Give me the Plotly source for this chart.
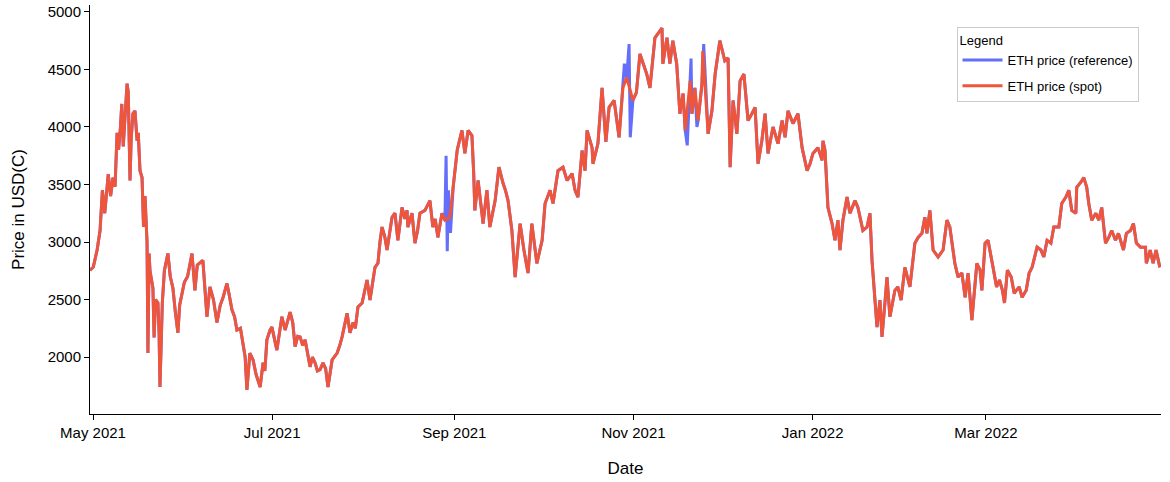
import pandas as pd
import plotly.graph_objects as go

# days counted from 2021-05-01, price
start = pd.Timestamp("2021-05-01")

spot_days = [
    -1.0, 0.1, 1.4, 2.4, 3.2, 4.0, 5.2, 6.0, 6.8, 7.5, 8.2, 8.7, 9.3, 9.8, 10.3, 11.0,
    11.6, 12.0, 12.6, 13.0, 13.6, 14.3, 15.0, 15.4, 16.0, 16.7, 17.2, 17.7, 18.4, 18.7,
    19.1, 19.4, 20.4, 20.8, 21.3, 22.1, 22.5, 22.8, 23.6, 24.3, 25.5, 26.3, 27.2, 28.0,
    28.9, 29.5, 31.1, 32.2, 33.7, 34.7, 35.5, 37.4, 38.2, 38.8, 39.8, 41.0, 42.2, 43.3,
    44.3, 45.6, 46.3, 47.3, 48.2, 49.0, 50.2, 51.1, 51.8, 52.4, 53.0, 53.4, 54.5, 55.5,
    56.9, 57.9, 58.5, 59.2, 60.3, 60.9, 62.6, 63.5, 64.3, 65.4, 67.1, 68.0, 68.8, 69.7,
    70.5, 71.4, 72.2, 73.9, 74.7, 75.6, 76.4, 77.3, 78.3, 79.2, 80.0, 81.4, 82.2, 83.1,
    84.0, 84.8, 86.5, 87.5, 88.5, 89.3, 90.2, 91.6, 93.3, 94.3, 96.0, 97.0, 97.7, 98.4,
    99.3, 100.1, 101.8, 102.8, 103.8, 105.2, 106.2, 106.9, 107.2, 108.6, 109.6, 110.5,
    111.3, 113.0, 114.7, 115.7, 116.5, 117.4, 118.8, 119.8, 121.5, 122.6, 124.0, 125.6,
    126.6, 127.7, 129.0, 129.6, 130.0, 131.1, 132.0, 132.8, 134.1, 135.1, 136.9, 138.2,
    139.6, 140.4, 141.3, 142.6, 143.7, 145.4, 146.7, 148.1, 149.4, 150.3, 151.1, 152.9,
    153.9, 155.6, 156.6, 158.3, 160.0, 161.4, 163.1, 164.1, 165.1, 166.5, 167.5, 168.2,
    169.9, 170.2, 171.9, 173.3, 174.6, 175.7, 177.4, 179.1, 180.4, 181.7, 183.8, 185.0,
    186.2, 188.5, 189.6, 191.3, 193.7, 194.0, 195.4, 196.4, 197.4, 198.7, 199.8, 200.9,
    201.6, 203.3, 203.9, 204.9, 206.0, 207.3, 207.6, 209.4, 210.7, 211.8, 213.4, 215.1,
    216.2, 216.9, 217.9, 219.2, 220.3, 221.6, 223.0, 224.3, 225.4, 226.4, 227.7, 228.8,
    229.8, 231.5, 233.2, 234.6, 235.6, 236.6, 238.3, 240.0, 241.4, 243.1, 244.1, 245.1,
    246.8, 248.2, 248.5, 249.2, 249.9, 250.2, 251.6, 252.6, 253.6, 254.3, 255.3, 256.7,
    257.7, 259.4, 260.4, 262.1, 263.5, 264.5, 265.2, 266.2, 266.9, 267.9, 268.6, 269.6,
    270.3, 271.3, 273.0, 274.0, 275.1, 276.4, 278.1, 279.8, 280.9, 282.2, 283.2, 283.9,
    284.9, 286.0, 287.7, 289.4, 290.7, 291.7, 293.4, 294.5, 295.8, 296.9, 297.9, 299.2,
    300.9, 302.0, 302.6, 303.7, 304.7, 306.4, 307.6, 308.6, 309.6, 310.3, 311.3, 312.6,
    313.6, 315.3, 316.3, 317.7, 318.7, 319.7, 321.4, 322.7, 323.7, 324.8, 326.1, 327.1,
    328.8, 329.8, 331.2, 332.2, 333.2, 334.6, 334.9, 336.3, 337.3, 338.3, 339.0, 340.0,
    341.4, 342.4, 343.4, 344.7, 345.8, 346.8, 348.1, 349.1, 350.8, 351.8, 353.2, 354.2,
    355.2, 356.6, 358.3, 358.6, 359.9, 360.9, 361.9, 363.2,
]
spot_price = [
    2754, 2783, 2930, 3100, 3450, 3250, 3590, 3400, 3560, 3480, 3950, 3800, 3980, 4200, 3830, 4150,
    4376, 4300, 3535, 3900, 4116, 4140, 3880, 3950, 3620, 3560, 3130, 3400, 3000, 2035,
    2900, 2750, 2600, 2170, 2500, 2470, 2200, 1740, 2470, 2750, 2900, 2700, 2600, 2400,
    2210, 2450, 2650, 2700, 2900, 2580, 2800, 2840, 2550, 2350, 2610, 2500, 2300, 2450,
    2520, 2640, 2550, 2410, 2350, 2235, 2250, 2120, 2000, 1715, 1900, 2035, 1975, 1850,
    1740, 1950, 1880, 2150, 2235, 2260, 2060, 2200, 2350, 2235, 2390, 2300, 2090, 2180,
    2175, 2100, 2150, 1915, 2000, 1950, 1880, 1890, 1950, 1900, 1740, 1975, 2000, 2035,
    2100, 2175, 2380, 2210, 2300, 2250, 2435, 2470, 2670, 2495, 2780, 2815, 3000, 3130,
    3050, 2930, 3215, 3250, 3015, 3300, 3200, 3275, 3130, 3250, 2990, 3100,
    3250, 3275, 3360, 3130, 3200, 3040, 3250, 3190, 3215, 3475, 3800, 3970,
    3770, 3970, 3925, 3600, 3275, 3535, 3350, 3160, 3450, 3130, 3360, 3650,
    3510, 3450, 3360, 3100, 2695, 3160, 2930, 2730, 3160, 2950, 2815, 3015,
    3335, 3450, 3335, 3620, 3650, 3535, 3595, 3450, 3390, 3795, 3620, 3970,
    3820, 3680, 3855, 4340, 3870, 4170, 4230, 3910, 4340, 4430, 4230, 4300,
    4635, 4460, 4340, 4775, 4860, 4550, 4775, 4550, 4750, 4550, 4115, 4290,
    3970, 4400, 4115, 4340, 4055, 4375, 4660, 3940, 4140, 4460, 4750, 4575,
    4600, 3650, 4230, 3940, 4400, 4460, 4055, 4115, 4170, 3680, 3880, 4115,
    3770, 4000, 3855, 4055, 3910, 4140, 4030, 4115, 3820, 3620, 3680, 3770,
    3820, 3710, 3880, 3795, 3420, 3300, 3160, 3015, 3190, 2930, 3190, 3390,
    3250, 3360, 3300, 3100, 3130, 3250, 2840, 2495, 2260, 2495, 2175, 2470,
    2695, 2350, 2580, 2610, 2495, 2780, 2610, 2990, 3040, 3075, 3215, 3075,
    3275, 2930, 2870, 2930, 3190, 3130, 2815, 2695, 2730, 2520, 2730, 2320,
    2815, 2755, 2580, 2990, 3015, 2780, 2610, 2670, 2580, 2470, 2755, 2695,
    2555, 2610, 2520, 2580, 2730, 2780, 2955, 2930, 2870, 3015, 2990, 3130,
    3130, 3335, 3390, 3450, 3275, 3250, 3475, 3520, 3560, 3475, 3335, 3190,
    3250, 3190, 3300, 2990, 3040, 3100, 3015, 3075, 2930, 3075, 3100, 3160,
    2990, 2955, 2955, 2815, 2930, 2815, 2930, 2780,
]

# points where the reference price leaves the spot price
ref_extra_days = [120.2, 120.6, 121.0, 121.7, 180.9, 182.5, 182.9, 202.3, 203.6, 205.6, 207.9]
ref_extra_price = [3750, 2920, 3450, 3080, 4550, 4720, 3910, 3840, 4595, 4000, 4720]

spot = pd.DataFrame({"day": spot_days, "price": spot_price})
extra = pd.DataFrame({"day": ref_extra_days, "price": ref_extra_price})
ref = pd.concat([spot, extra]).sort_values("day")

spot["date"] = start + pd.to_timedelta(spot["day"], unit="D")
ref["date"] = start + pd.to_timedelta(ref["day"], unit="D")

fig = go.Figure()
fig.add_trace(go.Scatter(x=ref["date"], y=ref["price"], mode="lines",
                         name="ETH price (reference)", legendgroup="ref",
                         line=dict(color="#636EFA", width=3)))
fig.add_trace(go.Scatter(x=spot["date"], y=spot["price"], mode="lines",
                         name="ETH price (spot)", legendgroup="spot",
                         line=dict(color="#EF553B", width=3)))

fig.update_layout(
    template="simple_white",
    width=1170, height=482,
    margin=dict(l=90, r=9, t=5, b=68),
    font=dict(family="Arial, Liberation Sans, sans-serif", size=15, color="black"),
    legend=dict(title=dict(text="Legend", font=dict(size=13)), font=dict(size=13),
                x=0.979, y=0.946, xanchor="right", yanchor="top",
                itemwidth=40, tracegroupgap=6,
                bordercolor="#cccccc", borderwidth=1, bgcolor="white"),
    xaxis=dict(title=dict(text="Date", font=dict(size=17), standoff=22),
               range=["2021-04-29 23:30", "2022-04-29 14:00"],
               dtick="M2", tick0="2021-05-01", tickformat="%b %Y",
               linecolor="black", tickcolor="black", automargin=False),
    yaxis=dict(title=dict(text="Price in USD(C)", font=dict(size=17), standoff=18),
               range=[1505, 5060], dtick=500, tick0=0,
               linecolor="black", tickcolor="black", automargin=False),
)

# drop the default 8px page margin so the figure sits at the window corner
fig.write_html("out.html", config={"displayModeBar": False},
               post_script="document.body.style.margin = '0';")
